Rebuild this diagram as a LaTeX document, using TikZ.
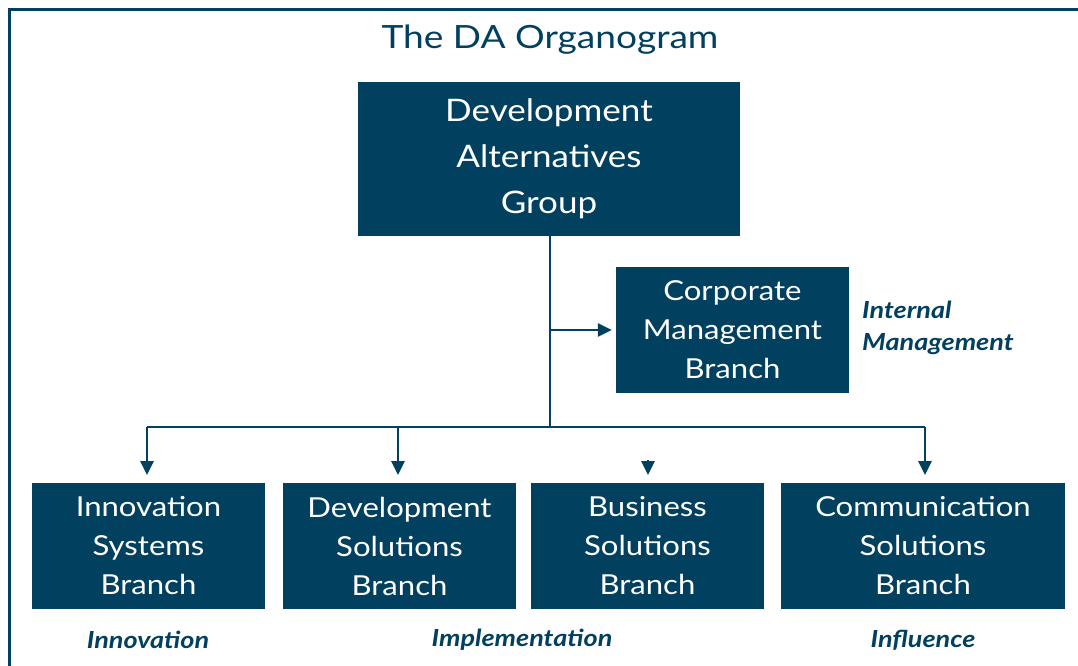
\documentclass[tikz,border=0pt]{standalone}
\usepackage{fontspec}
\setmainfont{Lato}
\usetikzlibrary{arrows.meta,calc}
\definecolor{da}{HTML}{02405F}
\tikzset{
  box/.style={fill=da, text=white, inner sep=0pt, align=center},
  small/.style={font=\fontsize{27.5}{39}\selectfont\addfontfeature{FakeStretch=1.13}},
  big/.style={font=\fontsize{31}{46}\selectfont\addfontfeature{FakeStretch=1.13}},
  lbl/.style={text=da, font=\fontsize{23.5}{32}\selectfont\bfseries\itshape\addfontfeature{FakeStretch=1.15}, inner sep=0pt},
  conn/.style={draw=da, line width=2.8pt},
  arr/.style={conn, -{Triangle[width=13pt,length=14pt]}}
}
\begin{document}
\begin{tikzpicture}[x=1pt,y=-1pt]
\useasboundingbox (0,0) rectangle (1078,666);
\clip (0,0) rectangle (1078,666);
\draw[da, line width=3pt] (9.5,9.5) rectangle (1200,800);
\node[text=da, font=\fontsize{32}{40}\selectfont\addfontfeature{FakeStretch=1.16}] (title) at (550,40) {The DA Organogram};
\node[box, big, minimum width=382, minimum height=154] (dag) at (549,159) {Development\\Alternatives\\Group};
\node[box, small, minimum width=233, minimum height=126] (cmb) at (732.5,330) {Corporate\\Management\\Branch};
\node[box, small, minimum width=233, minimum height=126] (isb) at (148.5,546) {Innovation\\Systems\\Branch};
\node[box, small, minimum width=233, minimum height=126] (dsb) at (399.5,546) {Development\\Solutions\\Branch};
\node[box, small, minimum width=233, minimum height=126] (bsb) at (647.5,546) {Business\\Solutions\\Branch};
\node[box, small, minimum width=284, minimum height=126] (csb) at (923,546) {Communication\\Solutions\\Branch};
\node[lbl, anchor=west, align=left] (im) at (862,328) {Internal\\Management};
\node[lbl] (inn) at (148,640) {Innovation};
\node[lbl] (imp) at (522,640) {Implementation};
\node[lbl] (inf) at (923,640) {Influence};
\coordinate (j) at (550,427);
\coordinate (m) at (550,330);
\coordinate (bt) at (648,460);
\draw[conn] (dag.south -| j) -- (j);
\draw[arr, shorten >=4pt] (m) -- (cmb.west);
\draw[conn] (147,427) -- (925,427);
\draw[arr, shorten >=8pt] (147,427) -- (147,483);
\draw[arr, shorten >=8pt] (398,427) -- (398,483);
\draw[arr, shorten >=8pt] (925,427) -- (925,483);
\draw[arr, shorten >=8pt] (bt) -- (648,483);
\end{tikzpicture}
\end{document}
